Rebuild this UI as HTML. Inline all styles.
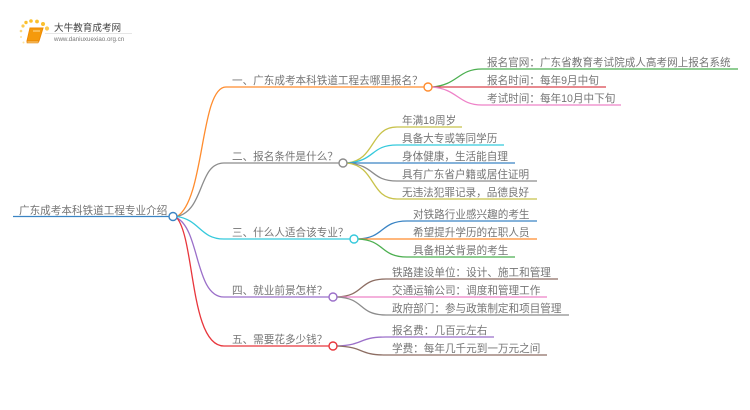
<!DOCTYPE html>
<html>
<head>
<meta charset="utf-8">
<style>
html,body{margin:0;padding:0;background:#fff}
svg{display:block}
text{font-family:"Liberation Sans","Noto Sans CJK SC",sans-serif;font-size:11px;fill:#757575;filter:blur(.3px)}
path,line{fill:none;stroke-width:1.3}
circle{fill:#fff;stroke-width:1.4}
</style>
</head>
<body>
<svg width="750" height="410" viewBox="0 0 750 410" xmlns="http://www.w3.org/2000/svg">
<!-- logo -->
<g>
<circle cx="21" cy="37" r="1" style="fill:#fde3a0;stroke:none"/>
<circle cx="21" cy="31" r="1.3" style="fill:#fcd577;stroke:none"/>
<circle cx="23" cy="26" r="1.6" style="fill:#fbc94f;stroke:none"/>
<circle cx="26" cy="22.5" r="1.7" style="fill:#fbc02d;stroke:none"/>
<circle cx="31" cy="21" r="1.8" style="fill:#fbc02d;stroke:none"/>
<circle cx="37" cy="21.5" r="1.9" style="fill:#fbc02d;stroke:none"/>
<circle cx="43" cy="24" r="2" style="fill:#fbc02d;stroke:none"/>
<circle cx="47" cy="28.5" r="2.1" style="fill:#fbc94f;stroke:none"/>
<circle cx="23.5" cy="42.5" r="1" style="fill:#fde3a0;stroke:none"/>
<path d="M30 28H43L39 41H27Z" style="fill:#f59a0c;stroke:#f08a00;stroke-width:1"/>
<path d="M27 41H39L38 43H27Z" style="fill:#f8c060;stroke:#e07a00;stroke-width:.6"/>
<line x1="33" y1="31" x2="40" y2="31" style="stroke:#fde0a0;stroke-width:1"/>
<line x1="45" y1="33.5" x2="132" y2="33.5" style="stroke:#e6e6e6;stroke-width:1"/>
<text x="54" y="31" style="font-size:9.6px;fill:#444">大牛教育成考网</text>
<text x="54" y="41" style="font-size:6.2px;fill:#777">www.daniuxuexiao.org.cn</text>
</g>

<!-- root -->
<line x1="13" y1="216.5" x2="173" y2="216.5" stroke="#3a84c4"/>
<text x="19" y="214" style="font-size:10.6px">广东成考本科铁道工程专业介绍</text>

<!-- level 1 branches -->
<path d="M177 216.5C205 200 200 87 226 87H428" stroke="#ff8c2e"/>
<path d="M177 216.5C205 210 198 163 224 163H343" stroke="#8c8c8c"/>
<path d="M177 216.5C200 220 200 239 224 239H354" stroke="#35c9dc"/>
<path d="M177 218C200 230 195 297 224 297H333" stroke="#9b6fc9"/>
<path d="M177 218C195 240 190 346 224 346H333" stroke="#e8363c"/>

<text x="232" y="84" style="font-size:10.6px">一、广东成考本科铁道工程去哪里报名&#xFF1F;</text>
<text x="232" y="160" style="font-size:10.6px">二、报名条件是什么&#xFF1F;</text>
<text x="232" y="236" style="font-size:10.6px">三、什么人适合该专业&#xFF1F;</text>
<text x="232" y="294" style="font-size:10.6px">四、就业前景怎样&#xFF1F;</text>
<text x="232" y="343" style="font-size:10.6px">五、需要花多少钱&#xFF1F;</text>

<!-- group 1 children -->
<path d="M432 87C458 85 458 69 482 69H738" stroke="#4caf50"/>
<line x1="432" y1="87" x2="606" y2="87" stroke="#d9434e"/>
<path d="M432 87C458 89 458 105 482 105H621" stroke="#ee82c8"/>
<text x="487" y="66" style="font-size:10.6px">报名官网&#xFF1A;广东省教育考试院成人高考网上报名系统</text>
<text x="487" y="84" style="font-size:10.6px">报名时间&#xFF1A;每年9月中旬</text>
<text x="487" y="102" style="font-size:10.6px">考试时间&#xFF1A;每年10月中下旬</text>

<!-- group 2 children -->
<path d="M347 163C376 160 370 127 397 127H462" stroke="#c8c24a"/>
<path d="M347 163C376 161 370 145 397 145H504" stroke="#35c9dc"/>
<line x1="347" y1="163" x2="515" y2="163" stroke="#3a84c4"/>
<path d="M347 163C376 165 370 181 397 181H537" stroke="#8c8c8c"/>
<path d="M347 163C376 166 370 199 397 199H537" stroke="#c8c24a"/>
<text x="402" y="124" style="font-size:10.6px">年满18周岁</text>
<text x="402" y="142" style="font-size:10.6px">具备大专或等同学历</text>
<text x="402" y="160" style="font-size:10.6px">身体健康&#xFF0C;生活能自理</text>
<text x="402" y="178" style="font-size:10.6px">具有广东省户籍或居住证明</text>
<text x="402" y="196" style="font-size:10.6px">无违法犯罪记录&#xFF0C;品德良好</text>

<!-- group 3 children -->
<path d="M358 239C385 238 380 221 407 221H537" stroke="#3a84c4"/>
<line x1="358" y1="239" x2="537" y2="239" stroke="#ff8c2e"/>
<path d="M358 239C385 240 380 257 407 257H515" stroke="#4caf50"/>
<text x="413" y="218" style="font-size:10.6px">对铁路行业感兴趣的考生</text>
<text x="413" y="236" style="font-size:10.6px">希望提升学历的在职人员</text>
<text x="413" y="254" style="font-size:10.6px">具备相关背景的考生</text>

<!-- group 4 children -->
<path d="M337 297C365 296 358 279 386 279H558" stroke="#8d6e63"/>
<line x1="337" y1="297" x2="547" y2="297" stroke="#ee82c8"/>
<path d="M337 297C365 298 358 315 386 315H569" stroke="#8c8c8c"/>
<text x="392" y="276" style="font-size:10.6px">铁路建设单位&#xFF1A;设计、施工和管理</text>
<text x="392" y="294" style="font-size:10.6px">交通运输公司&#xFF1A;调度和管理工作</text>
<text x="392" y="312" style="font-size:10.6px">政府部门&#xFF1A;参与政策制定和项目管理</text>

<!-- group 5 children -->
<path d="M337 346C365 345 358 337 386 337H494" stroke="#9b6fc9"/>
<path d="M337 346C365 347 358 355 386 355H547" stroke="#8d6e63"/>
<text x="392" y="334" style="font-size:10.6px">报名费&#xFF1A;几百元左右</text>
<text x="392" y="352" style="font-size:10.6px">学费&#xFF1A;每年几千元到一万元之间</text>

<!-- nodes -->
<circle cx="173" cy="216.5" r="4" stroke="#3a84c4"/>
<circle cx="428" cy="87" r="4" stroke="#ff8c2e"/>
<circle cx="343" cy="163" r="4" stroke="#8c8c8c"/>
<circle cx="354" cy="239" r="4" stroke="#35c9dc"/>
<circle cx="333" cy="297" r="4" stroke="#9b6fc9"/>
<circle cx="333" cy="346" r="4" stroke="#e8363c"/>
</svg>
</body>
</html>
